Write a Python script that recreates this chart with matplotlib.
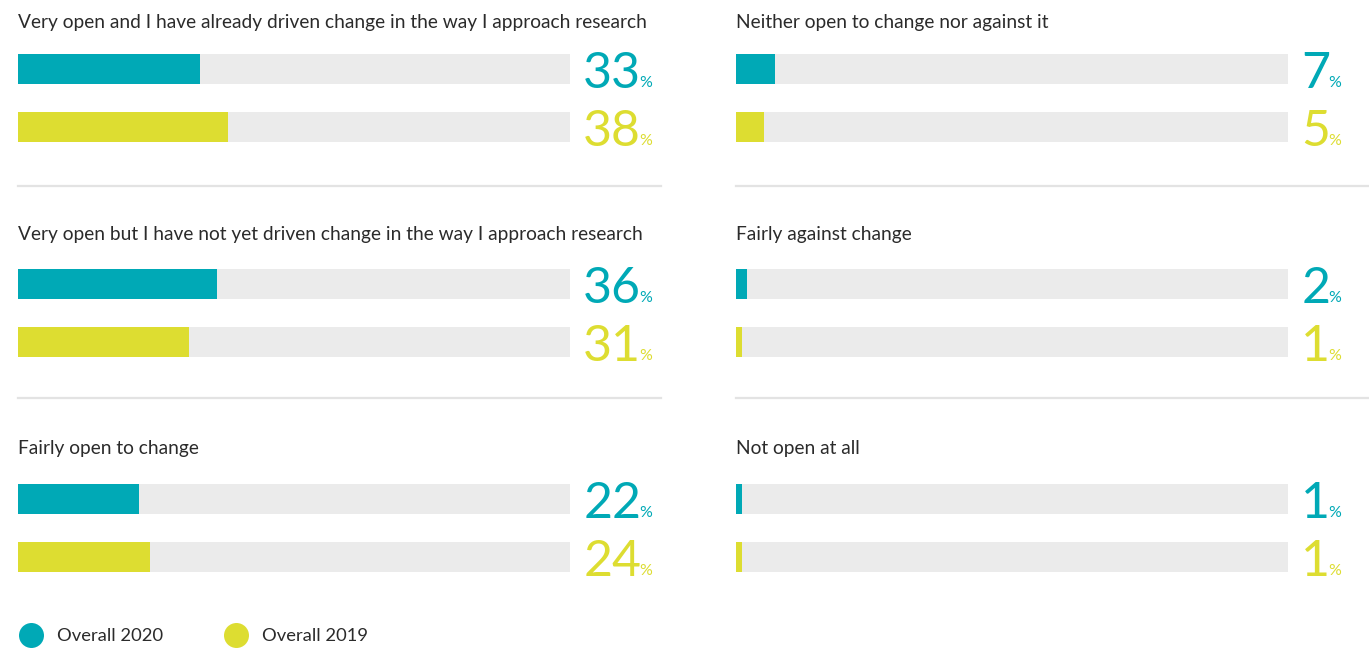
"""Openness to change: 2020 vs 2019, paired progress bars."""

import matplotlib

matplotlib.use("Agg")
import matplotlib.pyplot as plt
from matplotlib.lines import Line2D

# data
questions_left = [
    "Very open and I have already driven change in the way I approach research",
    "Very open but I have not yet driven change in the way I approach research",
    "Fairly open to change",
]
questions_right = [
    "Neither open to change nor against it",
    "Fairly against change",
    "Not open at all",
]
overall_2020_left = [33, 36, 22]
overall_2019_left = [38, 31, 24]
overall_2020_right = [7, 2, 1]
overall_2019_right = [5, 1, 1]
series_labels = ["Overall 2020", "Overall 2019"]

TEAL = "#00A9B6"
LIME = "#DDDD31"
TRACK = "#EBEBEB"
RULE = "#E3E3E3"
TEXT = "#2B2B2B"

W, H = 1369, 650
plt.rcParams["font.family"] = ["Lato", "DejaVu Sans"]

fig = plt.figure(figsize=(W / 100, H / 100), dpi=100)
fig.patch.set_facecolor("white")

BAR_PX = 30
STEP_PX = 58
half = BAR_PX / STEP_PX / 2
row_tops = [54, 269, 484]
title_pads = [18.5, 21, 21.5]
col_lefts = [18, 736]
track_px = 552


def panel(left_px, top_px, pad, title, v2020, v2019):
    ax = fig.add_axes(
        [left_px / W, 1 - (top_px + STEP_PX + BAR_PX) / H, track_px / W, (STEP_PX + BAR_PX) / H]
    )
    ax.set_xlim(0, 100)
    ax.set_ylim(1 + half, -half)
    ax.axis("off")
    ax.barh([0, 1], [100, 100], height=2 * half, color=TRACK, linewidth=0)
    ax.barh([0, 1], [v2020, v2019], height=2 * half, color=[TEAL, LIME], linewidth=0)
    ax.set_title(title, loc="left", pad=pad, fontsize=13.8, color=TEXT)
    for i, (val, col) in enumerate(zip([v2020, v2019], [TEAL, LIME])):
        num = ax.text(
            102.4, i + half + 4 / STEP_PX, f"{val}",
            fontsize=36, color=col, va="baseline", ha="left", clip_on=False,
        )
        ax.annotate(
            "%", xy=(1, 0), xycoords=num, xytext=(-1.5, 5.2), textcoords="offset points",
            fontsize=11.5, color=col, va="bottom", ha="left",
        )
    return ax


for r in range(3):
    panel(col_lefts[0], row_tops[r], title_pads[r], questions_left[r],
          overall_2020_left[r], overall_2019_left[r])
    panel(col_lefts[1], row_tops[r], title_pads[r], questions_right[r],
          overall_2020_right[r], overall_2019_right[r])

# separators
for y_px in (186, 398):
    fig.add_artist(Line2D([18 / W, 661 / W], [1 - y_px / H] * 2, color=RULE, lw=1.6))
    fig.add_artist(Line2D([736 / W, 1.0], [1 - y_px / H] * 2, color=RULE, lw=1.6))

handles = [
    Line2D([], [], marker="o", linestyle="none", markersize=18, color=c, markeredgewidth=0)
    for c in (TEAL, LIME)
]
fig.legend(
    handles, series_labels, loc="center left", bbox_to_anchor=(11 / W, 1 - 636 / H),
    ncol=2, frameon=False, fontsize=13.2, handletextpad=0.8, columnspacing=3.4,
    labelcolor=TEXT, borderpad=0, handlelength=1.2,
)

fig.savefig("out.png", dpi=100, facecolor="white")
